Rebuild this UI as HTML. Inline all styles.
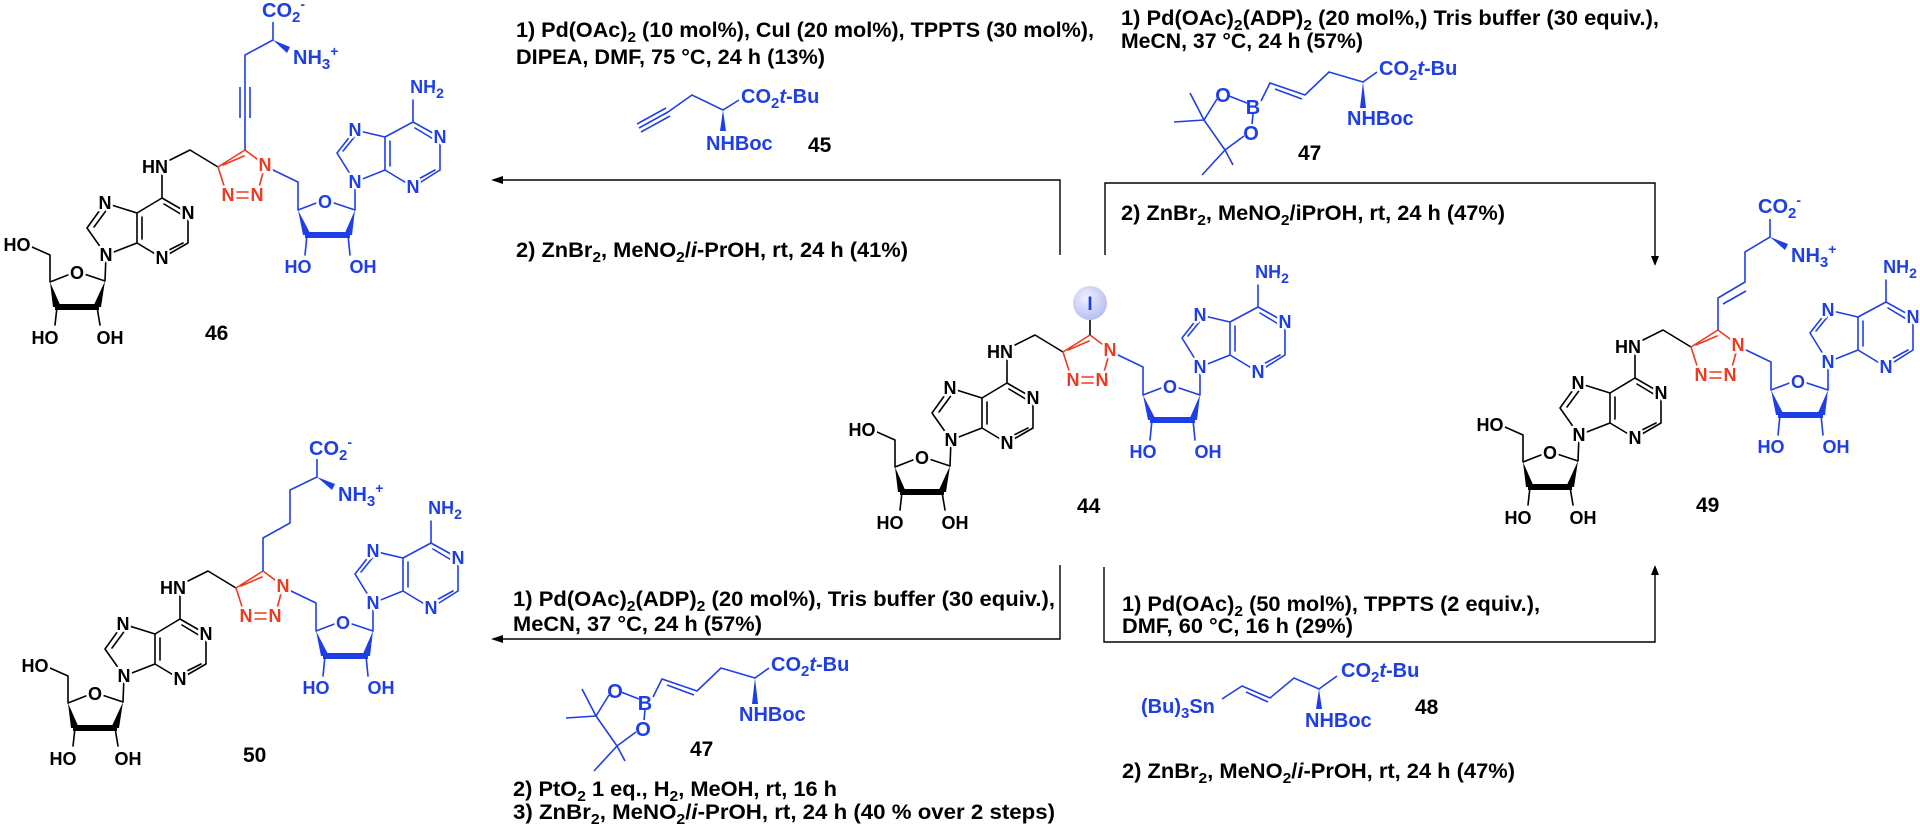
<!DOCTYPE html>
<html><head><meta charset="utf-8"><style>
html,body{margin:0;padding:0;background:#fff;}
svg{display:block;}
.a{font-family:"Liberation Sans",Arial,sans-serif;font-weight:bold;font-size:18px;text-anchor:middle;stroke:#fff;stroke-width:5px;paint-order:stroke;stroke-linejoin:round;}
.k{fill:#000}.r{fill:#ee3a1f}.b{fill:#1f3fe6}
.t{font-family:"Liberation Sans",Arial,sans-serif;font-weight:bold;font-size:21px;fill:#000;}
.s{font-family:"Liberation Sans",Arial,sans-serif;font-weight:bold;font-size:20px;fill:#1f3fe6;}
.n{font-family:"Liberation Sans",Arial,sans-serif;font-weight:bold;font-size:21px;fill:#000;}
</style></head><body>
<svg width="1920" height="826" viewBox="0 0 1920 826" xmlns="http://www.w3.org/2000/svg">
<defs>
<g id="bonds" fill="none" stroke-width="1.6" stroke-linecap="round" stroke-linejoin="round">
 <path stroke="#000" d="M877,432L895,440L895,467L918,458M926,458L950,466L951,440M902,492L900,510M942,492L945,510M951,440L932,413L950,388L982,398L1007,383L1033,398L1033,428L1007,443L982,428L951,440M982,398L982,428M1007,383L1007,360M1015,345L1035,335L1063,352M939,412L953,393M987,402L987,424M1009,389L1029,401M1028,428L1008,438"/>
 <polygon fill="#000" stroke="none" points="895,467 898,492 906,492"/>
 <polygon fill="#000" stroke="none" points="900,489 944,489 944,495 900,495"/>
 <polygon fill="#000" stroke="none" points="950,466 938,492 946,492"/>
 <path stroke="#ee3a1f" d="M1063,352L1090,335L1110,350M1110,350L1102,380M1063,352L1072,380M1068,350L1089,341M1082,377L1093,377M1082,383L1093,383"/>
 <path stroke="#1f3fe6" d="M1118,355L1143,367L1143,395L1164,387M1176,387L1200,395L1200,367M1152,420L1150,440M1193,420L1195,440M1200,367L1182,338L1200,315L1230,322L1258,307L1285,322L1285,355L1258,372L1230,355L1200,367M1230,322L1230,355M1258,307L1258,285M1188,336L1201,320M1235,326L1235,351M1260,313L1280,325M1280,355L1260,366"/>
 <polygon fill="#1f3fe6" stroke="none" points="1143,395 1148,420 1156,420"/>
 <polygon fill="#1f3fe6" stroke="none" points="1150,417 1195,417 1195,423 1150,423"/>
 <polygon fill="#1f3fe6" stroke="none" points="1200,395 1189,420 1197,420"/>
</g>
<radialGradient id="ig" cx="40%" cy="35%" r="65%"><stop offset="0" stop-color="#eef0ff"/><stop offset="1" stop-color="#b9c0f0"/></radialGradient>
</defs>

<!-- ARROWS -->
<g fill="none" stroke="#000" stroke-width="1.4">
<path d="M1060,255V180H500"/>
<path d="M1105,255V183H1655V258"/>
<path d="M1060,565V639H500"/>
<path d="M1104,567V642H1655V574"/>
</g>
<g fill="#000">
<polygon points="491,180 503,176 503,184"/>
<polygon points="1655,266 1651,256 1659,256"/>
<polygon points="491,639 503,635 503,643"/>
<polygon points="1655,565 1651,575 1659,575"/>
</g>

<!-- REAGENT TEXT -->
<text class="t" x="516" y="37" textLength="578" lengthAdjust="spacingAndGlyphs">1) Pd(OAc)<tspan dy="5" font-size="15">2</tspan><tspan dy="-5"> (10 mol%), CuI (20 mol%), TPPTS (30 mol%),</tspan></text>
<text class="t" x="516" y="64" textLength="309" lengthAdjust="spacingAndGlyphs">DIPEA, DMF, 75 °C, 24 h (13%)</text>
<text class="t" x="516" y="257" textLength="392" lengthAdjust="spacingAndGlyphs">2) ZnBr<tspan dy="5" font-size="15">2</tspan><tspan dy="-5">, MeNO</tspan><tspan dy="5" font-size="15">2</tspan><tspan dy="-5">/</tspan><tspan font-style="italic">i</tspan>-PrOH, rt, 24 h (41%)</text>

<text class="t" x="1121" y="25" textLength="538" lengthAdjust="spacingAndGlyphs">1) Pd(OAc)<tspan dy="5" font-size="15">2</tspan><tspan dy="-5">(ADP)</tspan><tspan dy="5" font-size="15">2</tspan><tspan dy="-5"> (20 mol%,) Tris buffer (30 equiv.),</tspan></text>
<text class="t" x="1121" y="48" textLength="242" lengthAdjust="spacingAndGlyphs">MeCN, 37 °C, 24 h (57%)</text>
<text class="t" x="1121" y="220" textLength="384" lengthAdjust="spacingAndGlyphs">2) ZnBr<tspan dy="5" font-size="15">2</tspan><tspan dy="-5">, MeNO</tspan><tspan dy="5" font-size="15">2</tspan><tspan dy="-5">/iPrOH, rt, 24 h (47%)</tspan></text>

<text class="t" x="513" y="606" textLength="542" lengthAdjust="spacingAndGlyphs">1) Pd(OAc)<tspan dy="5" font-size="15">2</tspan><tspan dy="-5">(ADP)</tspan><tspan dy="5" font-size="15">2</tspan><tspan dy="-5"> (20 mol%), Tris buffer (30 equiv.),</tspan></text>
<text class="t" x="513" y="631" textLength="249" lengthAdjust="spacingAndGlyphs">MeCN, 37 °C, 24 h (57%)</text>
<text class="t" x="513" y="796" textLength="324" lengthAdjust="spacingAndGlyphs">2) PtO<tspan dy="5" font-size="15">2</tspan><tspan dy="-5"> 1 eq., H</tspan><tspan dy="5" font-size="15">2</tspan><tspan dy="-5">, MeOH, rt, 16 h</tspan></text>
<text class="t" x="513" y="819" textLength="542" lengthAdjust="spacingAndGlyphs">3) ZnBr<tspan dy="5" font-size="15">2</tspan><tspan dy="-5">, MeNO</tspan><tspan dy="5" font-size="15">2</tspan><tspan dy="-5">/</tspan><tspan font-style="italic">i</tspan>-PrOH, rt, 24 h (40 % over 2 steps)</text>

<text class="t" x="1122" y="611" textLength="418" lengthAdjust="spacingAndGlyphs">1) Pd(OAc)<tspan dy="5" font-size="15">2</tspan><tspan dy="-5"> (50 mol%), TPPTS (2 equiv.),</tspan></text>
<text class="t" x="1122" y="633" textLength="231" lengthAdjust="spacingAndGlyphs">DMF, 60 °C, 16 h (29%)</text>
<text class="t" x="1122" y="778" textLength="393" lengthAdjust="spacingAndGlyphs">2) ZnBr<tspan dy="5" font-size="15">2</tspan><tspan dy="-5">, MeNO</tspan><tspan dy="5" font-size="15">2</tspan><tspan dy="-5">/</tspan><tspan font-style="italic">i</tspan>-PrOH, rt, 24 h (47%)</text>

<!-- REAGENT 45 -->
<g fill="none" stroke="#1f3fe6" stroke-width="1.6">
<path d="M639,128L668,112M637,124L666,108M641,132L670,116M668,112L692,95L723,110L739,100"/>
</g>
<polygon fill="#1f3fe6" points="723,110 720,131 726,131"/>
<text class="s" x="741" y="103">CO<tspan dy="5" font-size="15">2</tspan><tspan dy="-5" font-style="italic">t</tspan>-Bu</text>
<text class="s" x="706" y="150">NHBoc</text>
<text class="n" x="808" y="152">45</text>

<!-- REAGENT 47 top -->
<g id="r47">
<g fill="none" stroke="#1f3fe6" stroke-width="1.6">
<path d="M1204,120L1217,99M1229,96L1247,103M1253,114L1252,124M1244,136L1225,150L1204,120M1204,120L1190,93M1204,120L1174,122M1225,150L1202,175M1225,150L1233,165M1261,101L1270,83L1305,95L1329,72L1363,82L1377,72M1275,89L1302,99"/>
</g>
<polygon fill="#1f3fe6" points="1363,82 1360,108 1366,108"/>
<text class="s" x="1223" y="102" text-anchor="middle">O</text>
<text class="s" x="1253" y="114" text-anchor="middle">B</text>
<text class="s" x="1251" y="140" text-anchor="middle">O</text>
<text class="s" x="1379" y="75">CO<tspan dy="5" font-size="15">2</tspan><tspan dy="-5" font-style="italic">t</tspan>-Bu</text>
<text class="s" x="1347" y="125">NHBoc</text>
<text class="n" x="1298" y="160">47</text>
</g>
<!-- REAGENT 47 bottom -->
<g transform="translate(-608,596)">
<g fill="none" stroke="#1f3fe6" stroke-width="1.6">
<path d="M1204,120L1217,99M1229,96L1247,103M1253,114L1252,124M1244,136L1225,150L1204,120M1204,120L1190,93M1204,120L1174,122M1225,150L1202,175M1225,150L1233,165M1261,101L1270,83L1305,95L1329,72L1363,82L1377,72M1275,89L1302,99"/>
</g>
<polygon fill="#1f3fe6" points="1363,82 1360,108 1366,108"/>
<text class="s" x="1223" y="102" text-anchor="middle">O</text>
<text class="s" x="1253" y="114" text-anchor="middle">B</text>
<text class="s" x="1251" y="140" text-anchor="middle">O</text>
<text class="s" x="1379" y="75">CO<tspan dy="5" font-size="15">2</tspan><tspan dy="-5" font-style="italic">t</tspan>-Bu</text>
<text class="s" x="1347" y="125">NHBoc</text>
<text class="n" x="1298" y="160">47</text>
</g>

<!-- REAGENT 48 -->
<g fill="none" stroke="#1f3fe6" stroke-width="1.6">
<path d="M1222,699L1242,686L1270,698L1294,678L1319,689L1337,676M1246,692L1268,702"/>
</g>
<polygon fill="#1f3fe6" points="1319,689 1316,709 1322,709"/>
<text class="s" x="1141" y="713">(Bu)<tspan dy="5" font-size="15">3</tspan><tspan dy="-5">Sn</tspan></text>
<text class="s" x="1341" y="677">CO<tspan dy="5" font-size="15">2</tspan><tspan dy="-5" font-style="italic">t</tspan>-Bu</text>
<text class="s" x="1305" y="727">NHBoc</text>
<text class="n" x="1415" y="714">48</text>

<!-- COMPOUND 44 -->
<use href="#bonds"/>
<line x1="1090" y1="335" x2="1090" y2="318" stroke="#000" stroke-width="1.6"/>
<circle cx="1090" cy="303" r="17" fill="url(#ig)"/>
<text x="1090" y="310" font-family="Liberation Sans, sans-serif" font-weight="bold" font-size="19" fill="#1f3fe6" text-anchor="middle">I</text>
<g>
<text class="a k" x="862" y="436">HO</text><text class="a k" x="922" y="464">O</text><text class="a k" x="890" y="529">HO</text><text class="a k" x="955" y="529">OH</text>
<text class="a k" x="951" y="446">N</text><text class="a k" x="950" y="394">N</text><text class="a k" x="1033" y="404">N</text><text class="a k" x="1007" y="449">N</text><text class="a k" x="1000" y="358">HN</text>
<text class="a r" x="1110" y="356">N</text><text class="a r" x="1073" y="386">N</text><text class="a r" x="1102" y="386">N</text>
<text class="a b" x="1170" y="393">O</text><text class="a b" x="1143" y="458">HO</text><text class="a b" x="1208" y="458">OH</text>
<text class="a b" x="1200" y="373">N</text><text class="a b" x="1200" y="321">N</text><text class="a b" x="1285" y="328">N</text><text class="a b" x="1258" y="378">N</text>
<text class="a b" x="1272" y="278">NH<tspan dy="5" font-size="14">2</tspan></text>
</g>
<text class="n" x="1077" y="513">44</text>

<!-- COMPOUND 46 -->
<g transform="translate(-845,-185)">
<use href="#bonds"/>
<text class="a k" x="862" y="436">HO</text><text class="a k" x="922" y="464">O</text><text class="a k" x="890" y="529">HO</text><text class="a k" x="955" y="529">OH</text>
<text class="a k" x="951" y="446">N</text><text class="a k" x="950" y="394">N</text><text class="a k" x="1033" y="404">N</text><text class="a k" x="1007" y="449">N</text><text class="a k" x="1000" y="358">HN</text>
<text class="a r" x="1110" y="356">N</text><text class="a r" x="1073" y="386">N</text><text class="a r" x="1102" y="386">N</text>
<text class="a b" x="1170" y="393">O</text><text class="a b" x="1143" y="458">HO</text><text class="a b" x="1208" y="458">OH</text>
<text class="a b" x="1200" y="373">N</text><text class="a b" x="1200" y="321">N</text><text class="a b" x="1285" y="328">N</text><text class="a b" x="1258" y="378">N</text>
<text class="a b" x="1272" y="278">NH<tspan dy="5" font-size="14">2</tspan></text>
</g>
<g fill="none" stroke="#1f3fe6" stroke-width="1.6"><path d="M245,150V55L273,40V22M240,87V118M250,87V118"/></g>
<polygon fill="#1f3fe6" points="273,40 290,47 287,53"/>
<text class="s" x="262" y="17">CO<tspan dy="5" font-size="15">2</tspan><tspan dy="-13" font-size="14">-</tspan></text>
<text class="s" x="293" y="64">NH<tspan dy="5" font-size="15">3</tspan><tspan dy="-13" font-size="14">+</tspan></text>
<text class="n" x="205" y="340">46</text>

<!-- COMPOUND 49 -->
<g transform="translate(628,-5)">
<use href="#bonds"/>
<text class="a k" x="862" y="436">HO</text><text class="a k" x="922" y="464">O</text><text class="a k" x="890" y="529">HO</text><text class="a k" x="955" y="529">OH</text>
<text class="a k" x="951" y="446">N</text><text class="a k" x="950" y="394">N</text><text class="a k" x="1033" y="404">N</text><text class="a k" x="1007" y="449">N</text><text class="a k" x="1000" y="358">HN</text>
<text class="a r" x="1110" y="356">N</text><text class="a r" x="1073" y="386">N</text><text class="a r" x="1102" y="386">N</text>
<text class="a b" x="1170" y="393">O</text><text class="a b" x="1143" y="458">HO</text><text class="a b" x="1208" y="458">OH</text>
<text class="a b" x="1200" y="373">N</text><text class="a b" x="1200" y="321">N</text><text class="a b" x="1285" y="328">N</text><text class="a b" x="1258" y="378">N</text>
<text class="a b" x="1272" y="278">NH<tspan dy="5" font-size="14">2</tspan></text>
</g>
<g fill="none" stroke="#1f3fe6" stroke-width="1.6"><path d="M1718,330V298L1745,282V252L1770,237V219M1723,304L1746,291"/></g>
<polygon fill="#1f3fe6" points="1770,237 1788,244 1785,250"/>
<text class="s" x="1758" y="213">CO<tspan dy="5" font-size="15">2</tspan><tspan dy="-13" font-size="14">-</tspan></text>
<text class="s" x="1791" y="262">NH<tspan dy="5" font-size="15">3</tspan><tspan dy="-13" font-size="14">+</tspan></text>
<text class="n" x="1696" y="512">49</text>

<!-- COMPOUND 50 -->
<g transform="translate(-827,236)">
<use href="#bonds"/>
<text class="a k" x="862" y="436">HO</text><text class="a k" x="922" y="464">O</text><text class="a k" x="890" y="529">HO</text><text class="a k" x="955" y="529">OH</text>
<text class="a k" x="951" y="446">N</text><text class="a k" x="950" y="394">N</text><text class="a k" x="1033" y="404">N</text><text class="a k" x="1007" y="449">N</text><text class="a k" x="1000" y="358">HN</text>
<text class="a r" x="1110" y="356">N</text><text class="a r" x="1073" y="386">N</text><text class="a r" x="1102" y="386">N</text>
<text class="a b" x="1170" y="393">O</text><text class="a b" x="1143" y="458">HO</text><text class="a b" x="1208" y="458">OH</text>
<text class="a b" x="1200" y="373">N</text><text class="a b" x="1200" y="321">N</text><text class="a b" x="1285" y="328">N</text><text class="a b" x="1258" y="378">N</text>
<text class="a b" x="1272" y="278">NH<tspan dy="5" font-size="14">2</tspan></text>
</g>
<g fill="none" stroke="#1f3fe6" stroke-width="1.6"><path d="M263,571V538L290,523V490L317,477V459"/></g>
<polygon fill="#1f3fe6" points="317,477 335,484 332,490"/>
<text class="s" x="309" y="455">CO<tspan dy="5" font-size="15">2</tspan><tspan dy="-13" font-size="14">-</tspan></text>
<text class="s" x="338" y="501">NH<tspan dy="5" font-size="15">3</tspan><tspan dy="-13" font-size="14">+</tspan></text>
<text class="n" x="243" y="762">50</text>
</svg>
</body></html>
